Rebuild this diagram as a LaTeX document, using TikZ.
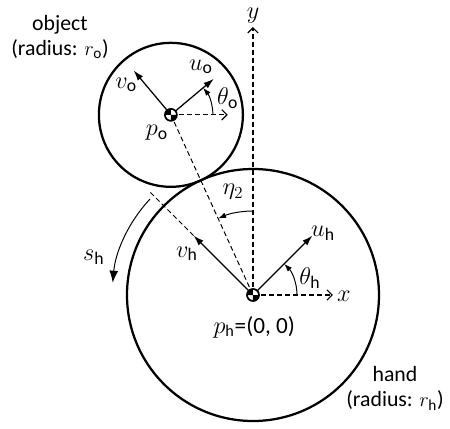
\documentclass[tikz,border=0pt]{standalone}
\usepackage{amsmath}
\usepackage{fontspec}
\setmainfont{Carlito}
\setsansfont{Carlito}
\usetikzlibrary{arrows.meta}
\newcommand{\ix}[1]{_{\textsf{#1}}}

\begin{document}
\begin{tikzpicture}[font=\fontsize{15.5}{17.8}\selectfont,
  lab/.style={font=\fontsize{18}{20}\selectfont,inner sep=1pt},
  body/.style={line width=1.6pt},
  vec/.style={-{Latex[length=2.6mm,width=1.7mm]},line width=0.9pt},
  axe/.style={-{Straight Barb[length=1.3mm,width=2.6mm]},dash pattern=on 3.5pt off 2.2pt,line width=0.8pt},
  ang/.style={-{Latex[length=2mm,width=1.4mm]},line width=0.7pt},
  sarc/.style={-{Latex[length=3mm,width=2.2mm]},line width=0.7pt},
  aux/.style={dash pattern=on 3.5pt off 2.2pt,line width=0.7pt}
]
\useasboundingbox (-6.325,-3.325) rectangle (4.925,7.375);
% ---- centres ----
\coordinate (ph) at (0,0);
\coordinate (po) at (114.5:4.95);
% ---- bodies ----
\draw[body] (ph) circle (3.15);
\draw[body] (po) circle (1.8);
% ---- axes ----
\coordinate (xend) at (2,0);
\coordinate (yend) at (0,6.7);
\draw[axe] (ph) -- (xend);
\draw[axe] (ph) -- (yend);
\node[lab] (xlab) at (2.27,-0.03) {$x$};
\node[lab] (ylab) at (0,6.98) {$y$};
% ---- hand frame ----
\coordinate (uh) at (45:2.1);
\coordinate (vh) at (135:2.1);
\coordinate (shend) at (135:3.65);
\draw[aux] (po) -- (ph);
\draw[aux] (vh) -- (shend);
\draw[vec] (ph) -- (uh);
\draw[vec] (ph) -- (vh);
\draw[ang] (1.1,0) arc (0:45:1.1);
\draw[ang] (0,2.1) arc (90:114.5:2.1);
\draw[sarc] (137:3.52) arc (137:175:3.52);
\node[lab] (uhlab) at (1.75,1.55) {$u\ix{h}$};
\node[lab] (vhlab) at (-1.65,1.03) {$v\ix{h}$};
\node[lab] (thlab) at (1.42,0.43) {$\theta\ix{h}$};
\node[lab] (etalab) at (-0.5,2.58) {$\eta_2$};
\node[lab] (shlab) at (-3.98,0.95) {$s\ix{h}$};
\node[lab,font=\fontsize{16.5}{18}\selectfont] (phlab) at (0.03,-0.8) {$p\ix{h}$=(0, 0)};
% ---- object frame ----
\begin{scope}[shift={(po)}]
  \coordinate (uo) at (40:1.4);
  \coordinate (vo) at (130:1.45);
  \coordinate (xo) at (1.42,0);
  \draw[axe] (0,0) -- (xo);
  \draw[vec] (0,0) -- (uo);
  \draw[vec] (0,0) -- (vo);
  \draw[ang] (1.05,0) arc (0:40:1.05);
  \node[lab] (uolab) at (0.75,1.2) {$u\ix{o}$};
  \node[lab] (volab) at (-1.12,0.75) {$v\ix{o}$};
  \node[lab] (tolab) at (1.42,0.42) {$\theta\ix{o}$};
  \node[lab] (polab) at (-0.35,-0.45) {$p\ix{o}$};
\end{scope}
% ---- centre marks ----
\foreach \c in {ph,po}{
  \fill[white] (\c) circle (0.15);
  \fill (\c) -- ++(90:0.15) arc (90:180:0.15) -- cycle;
  \fill (\c) -- ++(270:0.15) arc (270:360:0.15) -- cycle;
  \draw[line width=1.2pt] (\c) circle (0.15);
}
% ---- texts ----
\node[align=center] (objtxt) at (-4.825,6.44) {object\\(radius: $r\ix{o}$)};
\node[align=center] (handtxt) at (3.55,-2.33) {hand\\(radius: $r\ix{h}$)};
\end{tikzpicture}
\end{document}
